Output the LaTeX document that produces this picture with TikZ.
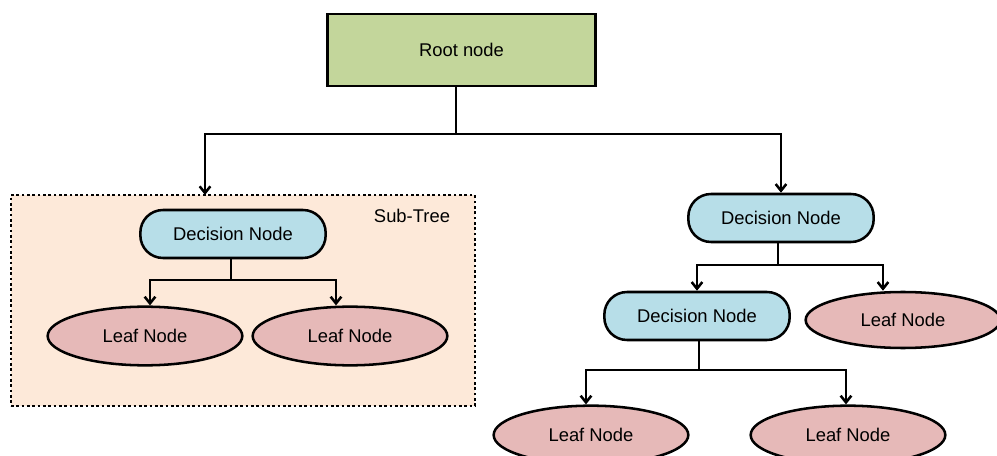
\documentclass[tikz,border=0pt]{standalone}
\usepackage{fontspec}
\setmainfont{Liberation Sans}
\usetikzlibrary{shapes.geometric,arrows.meta,calc}
\definecolor{rootfill}{HTML}{C3D69B}
\definecolor{decfill}{HTML}{B7DEE8}
\definecolor{leaffill}{HTML}{E6B9B8}
\definecolor{subfill}{HTML}{FDE9D9}
\begin{document}
\begin{tikzpicture}[x=0.75pt,y=-0.75pt,
  font=\fontsize{13.8}{16}\selectfont,
  rootbox/.style={draw=black,line width=1.9pt,fill=rootfill,minimum width=201pt,minimum height=54pt,inner sep=0pt},
  decbox/.style={draw=black,line width=1.9pt,fill=decfill,rounded corners=17pt,minimum width=139pt,minimum height=36pt,inner sep=0pt},
  leafbox/.style={ellipse,draw=black,line width=1.9pt,fill=leaffill,minimum width=146pt,minimum height=44pt,inner sep=0pt},
  subbox/.style={draw=black,line width=2pt,dotted,fill=subfill},
  conn/.style={draw=black,line width=1.9pt},
  arr/.style={conn,-{Straight Barb[length=5pt,width=8pt,line width=1.9pt]}}
]
\useasboundingbox (0,0) rectangle (997,456);
% sub-tree frame
\node[subbox,minimum width=348pt,minimum height=158pt,inner sep=0pt] (sub) at (243,300.5) {};
\node (sublabel) at (412,216) {Sub-Tree};
% nodes
\node[rootbox] (root) at (461.5,50) {Root node};
\node[decbox] (dl) at (233,234) {Decision Node};
\node[leafbox] (ll1) at (145,336) {Leaf Node};
\node[leafbox] (ll2) at (350,336) {Leaf Node};
\node[decbox] (d1) at (781,218) {Decision Node};
\node[decbox] (d2) at (697,316) {Decision Node};
\node[leafbox,minimum height=42pt] (lr) at (903,320) {Leaf Node};
\node[leafbox] (lb1) at (591,435) {Leaf Node};
\node[leafbox] (lb2) at (848,435) {Leaf Node};
% junctions
\coordinate (j0) at (456,134);
\coordinate (sa) at (205,195);
\coordinate (jl) at (231,280);
\coordinate (j1) at (778,265);
\coordinate (j2) at (699,370);
% connectors
\draw[conn] (root.south -| j0) -- (j0);
\draw[arr] (j0) -| (sa);
\draw[arr] (j0) -| (d1.north);
\draw[conn] (dl.south -| jl) -- (jl);
\draw[arr] (jl) -| ($(ll1.north)+(5,0)$);
\draw[arr] (jl) -| ($(ll2.north)+(-14,0)$);
\draw[conn] (d1.south -| j1) -- (j1);
\draw[arr] (j1) -| (d2.north);
\draw[arr] (j1) -| ($(lr.north)+(-20,0)$);
\draw[conn] (d2.south -| j2) -- (j2);
\draw[arr] (j2) -| ($(lb1.north)+(-5,0)$);
\draw[arr] (j2) -| ($(lb2.north)+(-2,0)$);
\end{tikzpicture}
\end{document}
